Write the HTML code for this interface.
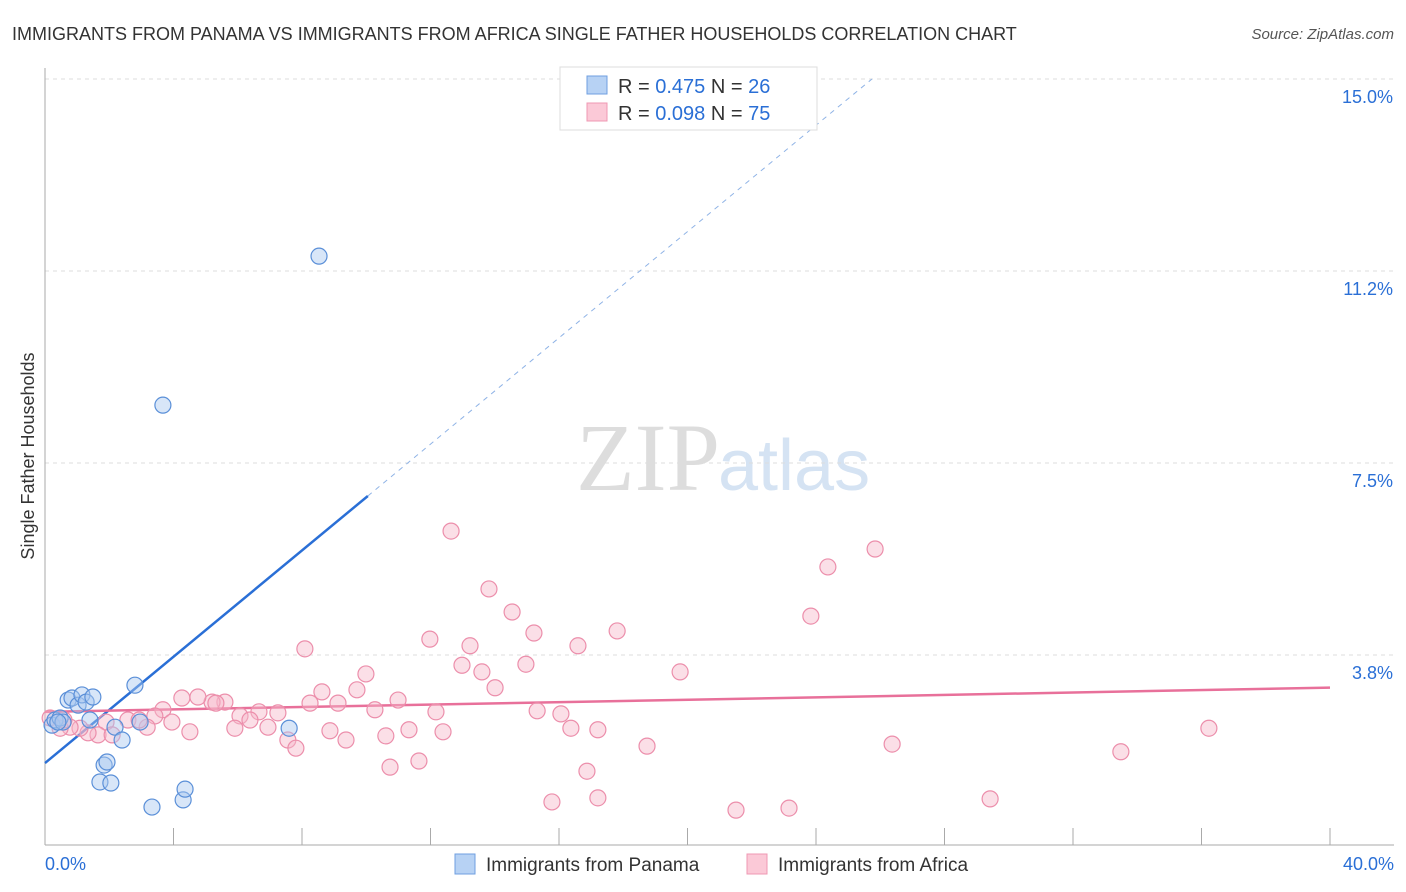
<!DOCTYPE html>
<html><head><meta charset="utf-8"><style>
body{margin:0;background:#fff;font-family:"Liberation Sans",sans-serif}
svg{display:block}
</style></head><body>
<svg id="c" width="1406" height="892" viewBox="0 0 1406 892">
<text x="12" y="40" font-size="18" fill="#333">IMMIGRANTS FROM PANAMA VS IMMIGRANTS FROM AFRICA SINGLE FATHER HOUSEHOLDS CORRELATION CHART</text>
<text x="1394" y="39" font-size="15" fill="#555" font-style="italic" text-anchor="end">Source: ZipAtlas.com</text>
<text x="720" y="490" font-size="96" fill="#ddd" text-anchor="end" font-family="Liberation Serif,serif">ZIP</text>
<text x="718" y="490" font-size="72" fill="#d5e3f3">atlas</text>
<text transform="translate(34,456) rotate(-90)" font-size="18" fill="#333" text-anchor="middle">Single Father Households</text>
<g id="grid"></g><g id="ticks"></g><g id="lines"></g><g id="pts"></g>
<g>
<rect x="560" y="67" width="257" height="63" fill="#fff" stroke="#ddd"/>
<rect x="587" y="76" width="20" height="18" fill="#b7d2f4" stroke="#6f9fe0"/>
<rect x="587" y="103" width="20" height="18" fill="#fbc9d7" stroke="#ef98b3"/>
<text x="618" y="93" font-size="20" fill="#333">R = <tspan fill="#2a6fd6">0.475</tspan>   N = <tspan fill="#2a6fd6">26</tspan></text>
<text x="618" y="120" font-size="20" fill="#333">R = <tspan fill="#2a6fd6">0.098</tspan>   N = <tspan fill="#2a6fd6">75</tspan></text>
</g>
<g>
<rect x="455" y="854" width="20" height="20" fill="#b7d2f4" stroke="#6f9fe0"/>
<text x="486" y="871" font-size="19" fill="#333">Immigrants from Panama</text>
<rect x="747" y="854" width="20" height="20" fill="#fbc9d7" stroke="#ef98b3"/>
<text x="778" y="871" font-size="19" fill="#333">Immigrants from Africa</text>
</g>
</svg>
<script>
const xTicks=[0,40];
const yTicks=[3.75,7.5,11.25,15];
const yTickLabels=["3.8%","7.5%","11.2%","15.0%"];
const panamaX=[0.22,0.31,0.47,0.56,0.72,0.84,1.03,1.15,1.28,1.49,1.40,2.18,2.40,2.80,2.96,1.71,1.84,1.93,2.05,3.33,4.30,4.36,3.67,8.53,7.60,0.40];
const panamaY=[2.38,2.48,2.52,2.44,2.87,2.91,2.77,2.97,2.83,2.93,2.48,2.34,2.09,3.16,2.44,1.27,1.60,1.66,1.25,0.78,0.92,1.13,8.63,11.54,2.32,2.44];
const africaPx=[[451,531],[489,589],[512,612],[534,633],[617,631],[578,646],[470,646],[430,639],[305,649],[366,674],[462,665],[482,672],[526,664],[495,688],[680,672],[828,567],[875,549],[811,616],[357,690],[322,692],[398,700],[436,712],[375,710],[338,703],[310,703],[259,712],[278,713],[225,702],[212,702],[198,697],[182,698],[216,703],[240,716],[250,720],[163,710],[155,716],[172,722],[147,727],[128,720],[139,720],[106,722],[98,735],[88,733],[80,728],[70,727],[60,728],[50,718],[64,720],[112,735],[190,732],[235,728],[268,727],[288,740],[296,748],[330,731],[346,740],[386,736],[409,730],[443,732],[537,711],[561,714],[571,728],[598,730],[647,746],[892,744],[1121,752],[1209,728],[419,761],[390,767],[587,771],[552,802],[598,798],[736,810],[789,808],[990,799]];
const africaX=africaPx.map(p=>+((p[0]-45)/1285*40).toFixed(2));
const africaY=africaPx.map(p=>+((847-p[1])/51.2).toFixed(2));
const panamaTrend=[1.64,0.519];
const africaTrend=[2.64,0.0118];
const X=v=>45+v/40*1285, Y=v=>847-v*51.2;
const NS="http://www.w3.org/2000/svg";
function mk(t,a,p){const e=document.createElementNS(NS,t);for(const k in a)e.setAttribute(k,a[k]);p.appendChild(e);return e;}
const g=document.getElementById('grid'),tk=document.getElementById('ticks'),ln=document.getElementById('lines'),pt=document.getElementById('pts');
yTicks.forEach((v,i)=>{
 const l=mk('line',{x1:45,x2:1394,y1:Y(v),y2:Y(v),stroke:'#ddd','stroke-dasharray':'4,4'},g);
 
 
 const t=mk('text',{x:1393,y:Y(v)+24,'font-size':18,fill:'#2a6fd6','text-anchor':'end'},tk);t.textContent=yTickLabels[i];
 
 
});
mk('line',{x1:45,x2:45,y1:68,y2:845,stroke:'#aaa'},g);
mk('line',{x1:45,x2:1394,y1:845,y2:845,stroke:'#aaa'},g);
for(let i=0;i<=10;i++){mk('line',{x1:X(i*4),x2:X(i*4),y1:828,y2:845,stroke:'#aaa'},g);}
xTicks.forEach((v,i)=>{const t=mk('text',{x:i?1394:45,y:870,'font-size':18,fill:'#2a6fd6','text-anchor':i?'end':'start'},tk);t.textContent=v.toFixed(1)+'%';
 
 });
function pts(xs,ys,f,s,name){xs.forEach((x,i)=>{const c=mk('circle',{cx:X(x),cy:Y(ys[i]),r:8,fill:f,'fill-opacity':0.45,stroke:s,'stroke-width':1.2},pt);
 
 });}
pts(africaX,africaY,'#f7b7ca','#ec8eab','africa-point');
pts(panamaX,panamaY,'#a9c8f0','#5a8fd8','panama-point');
const pEnd=(15-panamaTrend[0])/panamaTrend[1];
const l1=mk('line',{x1:X(0),y1:Y(panamaTrend[0]),x2:X(10.05),y2:Y(panamaTrend[0]+panamaTrend[1]*10.05),stroke:'#2a6fd6','stroke-width':2.5},ln);


const l2=mk('line',{x1:X(10.05),y1:Y(panamaTrend[0]+panamaTrend[1]*10.05),x2:X(pEnd),y2:Y(15),stroke:'#8fb3e6','stroke-width':1,'stroke-dasharray':'5,5'},ln);


const l3=mk('line',{x1:X(0),y1:Y(africaTrend[0]),x2:X(40),y2:Y(africaTrend[0]+africaTrend[1]*40),stroke:'#e8709a','stroke-width':2.5},ln);


</script>
</body></html>
